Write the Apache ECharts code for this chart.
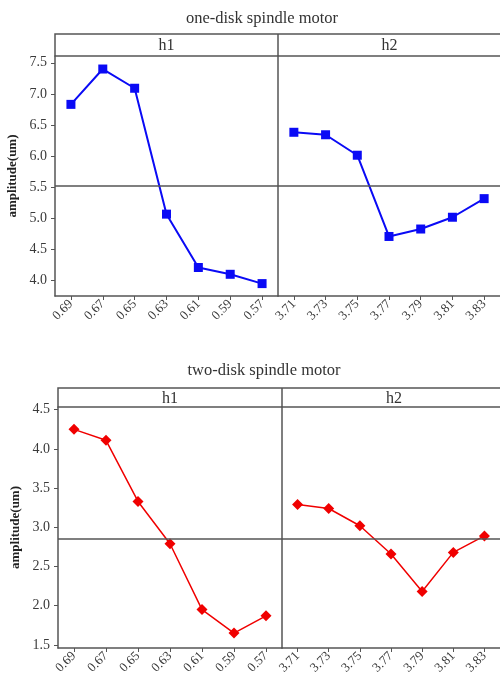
<!DOCTYPE html>
<html><head><meta charset="utf-8">
<script src="https://cdn.jsdelivr.net/npm/echarts@6/dist/echarts.min.js"></script>
<style>html,body{margin:0;padding:0;background:#fff}#c{width:500px;height:681px}</style>
</head><body><div id="c"></div>
<script>
const h1Levels = ['0.69','0.67','0.65','0.63','0.61','0.59','0.57'];
const h2Levels = ['3.71','3.73','3.75','3.77','3.79','3.81','3.83'];
const oneDiskH1 = [6.83, 7.40, 7.09, 5.06, 4.20, 4.09, 3.94];
const oneDiskH2 = [6.38, 6.34, 6.01, 4.70, 4.82, 5.01, 5.31];
const twoDiskH1 = [4.25, 4.11, 3.33, 2.79, 1.95, 1.65, 1.87];
const twoDiskH2 = [3.29, 3.24, 3.02, 2.66, 2.18, 2.68, 2.89];
const oneDiskTicks = [4.0, 4.5, 5.0, 5.5, 6.0, 6.5, 7.0, 7.5];
const twoDiskTicks = [1.5, 2.0, 2.5, 3.0, 3.5, 4.0, 4.5];
const oneDiskRange = [3.74, 7.61];
const twoDiskRange = [1.46, 4.535];

const FONT = 'Liberation Serif';
const AX = '#555';
const TXT = '#3a3a3a';
const mean = a => a.reduce((s, v) => s + v, 0) / a.length;
const oneMean = mean(oneDiskH1.concat(oneDiskH2));
const twoMean = mean(twoDiskH1.concat(twoDiskH2));

const L = [{left:55, width:223, top:56, height:240}, {left:278, width:223, top:56, height:240},
           {left:58, width:224, top:407, height:241}, {left:282, width:224, top:407, height:241}];

function xAx(i, cats) {
  return {type:'category', gridIndex:i, data:cats, boundaryGap:true,
    axisLine:{show:true, lineStyle:{color:AX, width:1.5}},
    axisTick:{show:true, alignWithLabel:true, length:4, lineStyle:{color:AX}},
    axisLabel:{rotate:45, fontFamily:FONT, fontSize:13, color:TXT, margin:6, interval:0},
    splitLine:{show:false}};
}
function yAx(i, range, ticks, showLabels) {
  return {type:'value', gridIndex:i, min:range[0], max:range[1],
    name: showLabels ? 'amplitude(um)' : '', nameLocation:'middle', nameGap:36,
    nameTextStyle:{fontFamily:FONT, fontWeight:'bold', fontSize:13, color:'#222'},
    axisLine:{show:true, lineStyle:{color:AX, width:1.5}},
    axisTick:{show:showLabels, length:4, customValues:ticks, lineStyle:{color:AX}},
    axisLabel:{show:showLabels, customValues:ticks, fontFamily:FONT, fontSize:14, color:TXT, margin:8,
      formatter:v => v.toFixed(1)},
    splitLine:{show:false}};
}
function ser(i, data, color, symbol, size, lw, m) {
  return {type:'line', xAxisIndex:i, yAxisIndex:i, data:data, symbol:symbol, symbolSize:size,
    itemStyle:{color:color}, lineStyle:{color:color, width:lw}, silent:true,
    markLine:{silent:true, symbol:['none','none'], label:{show:false},
      lineStyle:{color:AX, type:'solid', width:1.5}, data:[{yAxis:m}]}};
}
function strip(x, y, w, h, mid, labs) {
  return [
    {type:'rect', shape:{x:x, y:y, width:w, height:h}, style:{fill:'none', stroke:AX, lineWidth:1.5}},
    {type:'line', shape:{x1:mid, y1:y, x2:mid, y2:y+h}, style:{stroke:AX, lineWidth:1.5}},
    {type:'text', x:(x+mid)/2, y:y+h/2+1, style:{text:labs[0], font:'16px "Liberation Serif"', fill:'#333', align:'center', verticalAlign:'middle'}},
    {type:'text', x:(mid+x+w)/2, y:y+h/2+1, style:{text:labs[1], font:'16px "Liberation Serif"', fill:'#333', align:'center', verticalAlign:'middle'}}
  ];
}

const chart = echarts.init(document.getElementById('c'), null, {renderer:'canvas'});
chart.setOption({
  animation:false,
  title:[
    {text:'one-disk spindle motor', left:257, top:5, textAlign:'center', textStyle:{fontFamily:FONT, fontSize:16.5, fontWeight:'normal', color:'#333'}},
    {text:'two-disk spindle motor', left:259, top:357, textAlign:'center', textStyle:{fontFamily:FONT, fontSize:16.5, fontWeight:'normal', color:'#333'}}
  ],
  grid: L,
  xAxis:[xAx(0,h1Levels), xAx(1,h2Levels), xAx(2,h1Levels), xAx(3,h2Levels)],
  yAxis:[yAx(0,oneDiskRange,oneDiskTicks,true), yAx(1,oneDiskRange,oneDiskTicks,false),
         yAx(2,twoDiskRange,twoDiskTicks,true), yAx(3,twoDiskRange,twoDiskTicks,false)],
  series:[
    ser(0, oneDiskH1, '#0a0af5', 'rect', 9, 2, oneMean),
    ser(1, oneDiskH2, '#0a0af5', 'rect', 9, 2, oneMean),
    ser(2, twoDiskH1, '#f00000', 'diamond', 11, 1.5, twoMean),
    ser(3, twoDiskH2, '#f00000', 'diamond', 11, 1.5, twoMean)
  ],
  graphic: strip(55, 34, 446, 22, 278, ['h1','h2']).concat(strip(58, 388, 448, 19, 282, ['h1','h2']))
});
</script></body></html>
